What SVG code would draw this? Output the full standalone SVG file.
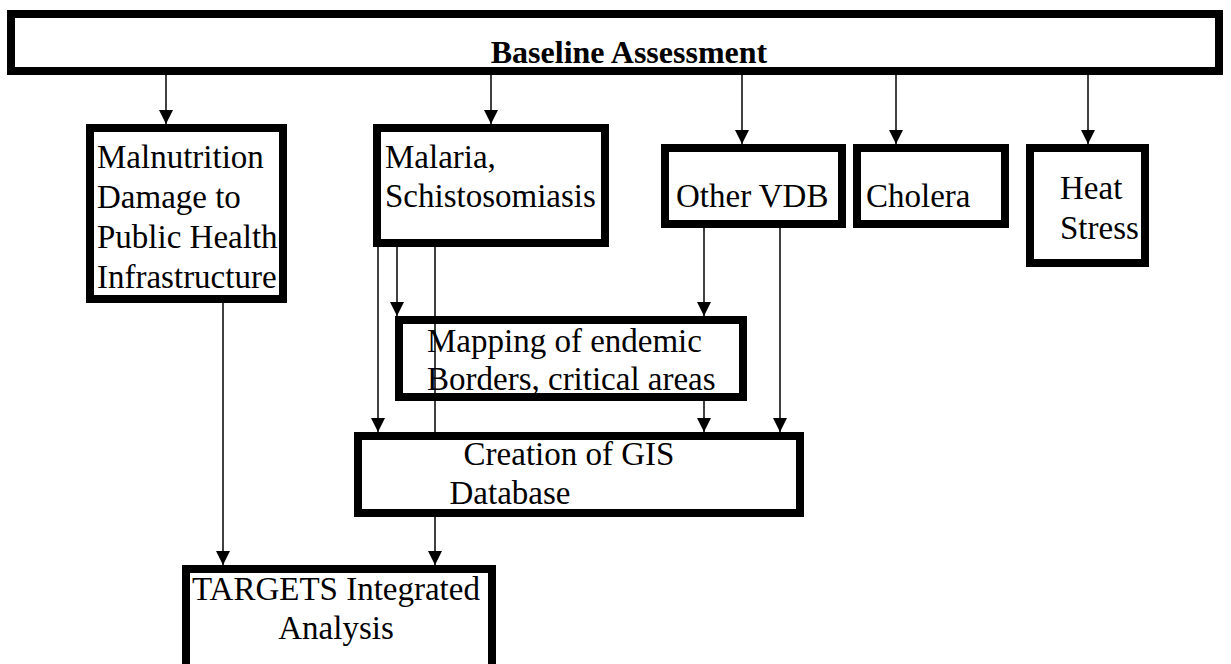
<svg xmlns="http://www.w3.org/2000/svg" width="1231" height="664" viewBox="0 0 1231 664">
<style>
.box{fill:#fff;stroke:#000;stroke-width:8}
.t{font-family:"Liberation Serif","Times New Roman",serif;font-size:33px;fill:#000}
.b{font-weight:bold;font-size:32px}
.c{stroke:#000;stroke-width:1.5;fill:none}
.a{marker-end:url(#ah)}
</style>
<defs>
<marker id="ah" markerUnits="userSpaceOnUse" markerWidth="16" markerHeight="14" refX="14" refY="7" orient="auto" viewBox="0 0 14 14">
<path d="M0,0 L14,7 L0,14 z" fill="#000"/>
</marker>
</defs>
<rect width="1231" height="664" fill="#fff"/>
<g id="baseline">
<rect class="box" x="11" y="14" width="1208" height="57"/>
<text class="t b" x="629" y="63" text-anchor="middle">Baseline Assessment</text>
</g>
<g id="malnutrition">
<rect class="box" x="90" y="128" width="193" height="171"/>
<text class="t"><tspan x="97" y="168">Malnutrition</tspan><tspan x="97" y="208">Damage to</tspan><tspan x="97" y="248">Public Health</tspan><tspan x="97" y="288">Infrastructure</tspan></text>
</g>
<g id="malaria">
<rect class="box" x="377" y="128" width="228" height="115"/>
<text class="t"><tspan x="385" y="168">Malaria,</tspan><tspan x="385" y="207">Schistosomiasis</tspan></text>
</g>
<g id="othervdb">
<rect class="box" x="665" y="148" width="177" height="76"/>
<text class="t" x="676" y="207">Other VDB</text>
</g>
<g id="cholera">
<rect class="box" x="857" y="148" width="148" height="76"/>
<text class="t" x="866" y="207">Cholera</text>
</g>
<g id="heat">
<rect class="box" x="1030" y="148" width="115" height="115"/>
<text class="t"><tspan x="1060" y="199">Heat</tspan><tspan x="1060" y="239">Stress</tspan></text>
</g>
<g id="mapping">
<rect class="box" x="399" y="320" width="344" height="77"/>
<text class="t"><tspan x="427" y="352">Mapping of endemic</tspan><tspan x="427" y="390">Borders, critical areas</tspan></text>
</g>
<g id="gis">
<rect class="box" x="358" y="436" width="442" height="77"/>
<text class="t" text-anchor="middle"><tspan x="569" y="465">Creation of GIS</tspan><tspan x="510" y="504">Database</tspan></text>
</g>
<g id="targets">
<rect class="box" x="186" y="569" width="306" height="110"/>
<text class="t" text-anchor="middle"><tspan x="336" y="600">TARGETS Integrated</tspan><tspan x="336" y="639">Analysis</tspan></text>
</g>
<g id="connectors">
<line class="c a" x1="166" y1="75" x2="166" y2="124"/>
<line class="c a" x1="491" y1="75" x2="491" y2="124"/>
<line class="c a" x1="742" y1="75" x2="742" y2="144"/>
<line class="c a" x1="896" y1="75" x2="896" y2="144"/>
<line class="c a" x1="1088" y1="75" x2="1088" y2="144"/>
<line class="c a" x1="378" y1="247" x2="378" y2="432"/>
<line class="c a" x1="397" y1="247" x2="397" y2="316"/>
<line class="c" x1="435" y1="247" x2="435" y2="432"/>
<line class="c a" x1="704" y1="228" x2="704" y2="316"/>
<line class="c a" x1="780" y1="228" x2="780" y2="432"/>
<line class="c a" x1="704" y1="401" x2="704" y2="432"/>
<line class="c a" x1="435" y1="517" x2="435" y2="565"/>
<line class="c a" x1="223" y1="303" x2="223" y2="565"/>
</g>
</svg>
